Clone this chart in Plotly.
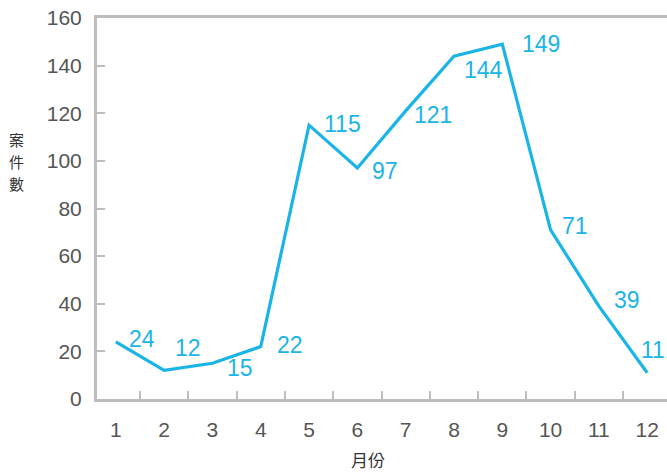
import plotly.graph_objects as go

months = list(range(1, 13))
cases = [24, 12, 15, 22, 115, 97, 121, 144, 149, 71, 39, 11]
x_title = "月份"
y_title = "案件數"
y_ticks = [0, 20, 40, 60, 80, 100, 120, 140, 160]

# label offsets in pixels (style only)
label_dx = [26, 24, 28, 29, 33, 28, 27, 30, 39, 24, 28, 6]
label_dy = [3, 22, -5, 2, 1, -3, -4, -14, 0, 4, 6, 23]

BLUE = "#1bb4e7"
GRAY = "#bdbdbd"
TXT = "#555555"
FONT = "Liberation Sans, Arial, Helvetica, sans-serif"
CJK = "Noto Sans CJK TC"

PLOT_TOP, PLOT_BOTTOM, PLOT_LEFT, PLOT_W = 18, 399, 97, 570


def px_to_paper(px, py):
    return ((px - PLOT_LEFT) / PLOT_W,
            (PLOT_BOTTOM - py) / (PLOT_BOTTOM - PLOT_TOP))


fig = go.Figure()
fig.add_trace(go.Scatter(
    x=months, y=cases, mode="lines",
    line=dict(color=BLUE, width=3.2),
    hoverinfo="skip", showlegend=False,
))

for m, v, dx, dy in zip(months, cases, label_dx, label_dy):
    fig.add_annotation(
        x=m, y=v, text=str(v), showarrow=False,
        xshift=dx, yshift=dy, xanchor="center", yanchor="middle",
        font=dict(family=FONT, size=23, color=BLUE),
    )

# vertical stacked y title, one character per annotation
for i, ch in enumerate(y_title):
    xp, yp = px_to_paper(16, 139 + 22 * i)
    fig.add_annotation(
        xref="paper", yref="paper", x=xp, y=yp, text=ch, showarrow=False,
        xanchor="center", yanchor="middle",
        font=dict(family=CJK, size=15, color="#333333"),
    )

xp, yp = px_to_paper(368, 459)
fig.add_annotation(
    xref="paper", yref="paper", x=xp, y=yp,
    text=x_title, showarrow=False, xanchor="center", yanchor="middle",
    font=dict(family=CJK, size=17, color="#333333"),
)

fig.update_xaxes(
    range=[0.61, 12.41],
    tickmode="array", tickvals=months, ticktext=[str(m) for m in months],
    ticks="", showgrid=False, zeroline=False,
    showline=True, linecolor=GRAY, linewidth=3, mirror=True,
    tickfont=dict(family=FONT, size=21, color=TXT),
    ticklabelstandoff=10,
    minor=dict(tick0=0.5, dtick=1, ticks="inside", ticklen=8,
               tickcolor=GRAY, tickwidth=2, showgrid=False),
)
fig.update_yaxes(
    range=[0, 160], tickmode="array", tickvals=y_ticks,
    ticks="inside", ticklen=8, tickcolor=GRAY, tickwidth=2,
    showgrid=False, zeroline=False,
    showline=True, linecolor=GRAY, linewidth=3,
    tickfont=dict(family=FONT, size=21, color=TXT),
    ticklabelstandoff=8,
)

fig.update_layout(
    width=667, height=472,
    margin=dict(l=PLOT_LEFT, r=0, t=PLOT_TOP, b=472 - PLOT_BOTTOM),
    paper_bgcolor="white", plot_bgcolor="white",
    showlegend=False,
)

fig.write_html("out.html")
